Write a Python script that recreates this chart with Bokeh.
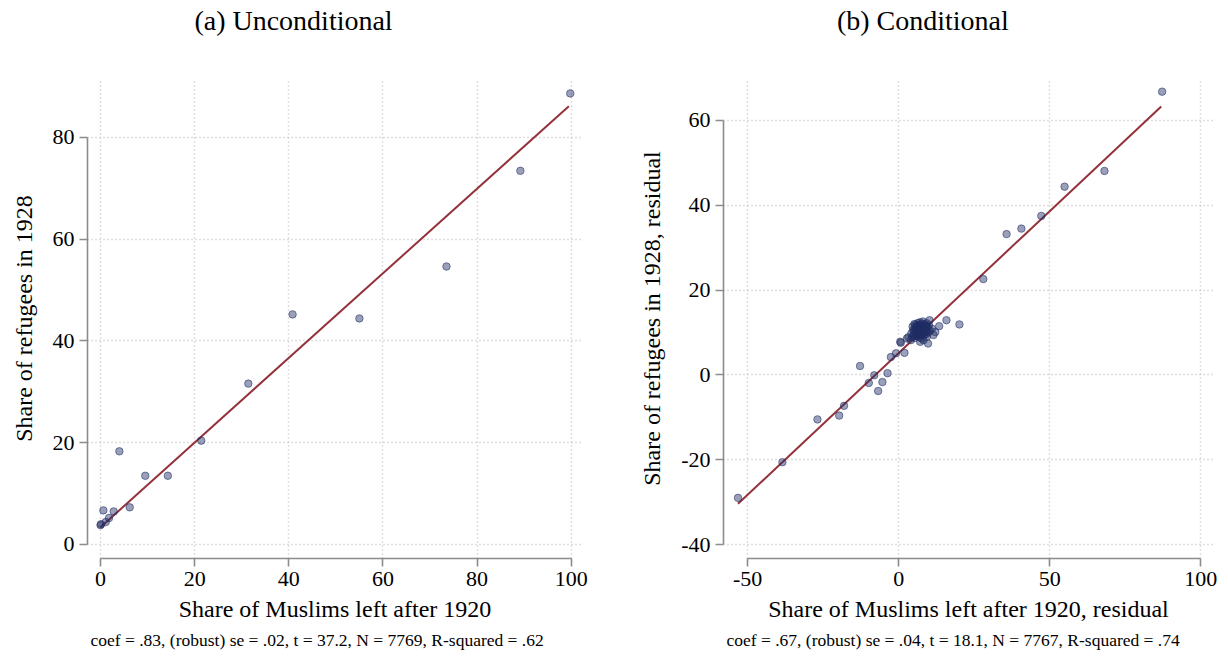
from bokeh.plotting import figure
from bokeh.layouts import row
from bokeh.models import Range1d, FixedTicker, Title, LinearAxis
from bokeh.embed import file_html
from bokeh.resources import INLINE

FONT = "Liberation Serif"

# ---------------- Panel (a): Unconditional ----------------
a_x = [0.0, 0.1, 1.1, 1.8, 2.8, 0.6, 6.2, 4.0, 9.5, 14.3, 21.4, 31.4, 40.8, 55.0, 73.5, 89.2, 99.8]
a_y = [3.8, 4.0, 4.4, 5.2, 6.5, 6.7, 7.3, 18.3, 13.5, 13.5, 20.4, 31.6, 45.2, 44.4, 54.6, 73.4, 88.6]
a_fit_x = [0.0, 99.5]
a_fit_y = [3.4, 86.1]
a_xticks = [0, 20, 40, 60, 80, 100]
a_yticks = [0, 20, 40, 60, 80]
a_title = "(a) Unconditional"
a_xlabel = "Share of Muslims left after 1920"
a_ylabel = "Share of refugees in 1928"
a_note = "coef = .83, (robust) se = .02, t = 37.2, N = 7769, R-squared = .62"

# ---------------- Panel (b): Conditional ----------------
b_x = [87.2, 68.1, 54.9, 47.2, 40.6, 35.7, 28.0, 20.1, 15.8, 13.4, 12.1, 10.2, 9.7,
       0.7, 2.7, 1.9, -0.9, -2.6, -3.7, -5.4, -6.8, -8.1, -9.9, -12.8,
       -18.1, -19.7, -26.9, -38.5, -53.2, 3.2, 4.0, 7.1, 8.2, 11.5, 11.0, 0.5,
       4.2, 4.5, 4.8, 5.0, 5.1, 5.3, 5.4, 5.6, 5.7, 5.8, 5.9, 6.0, 6.1, 6.2, 6.3,
       6.4, 6.5, 6.6, 6.7, 6.8, 6.9, 7.0, 7.1, 7.2, 7.3, 7.4, 7.5, 7.6, 7.7, 7.8,
       7.9, 8.0, 8.1, 8.2, 8.3, 8.4, 8.5, 8.6, 8.7, 8.8, 8.9, 9.0, 9.1, 9.2, 9.4,
       9.6, 9.8, 10.0, 6.3, 5.5, 7.0, 8.0, 4.6, 6.8, 7.6, 9.3, 5.2, 10.3]
b_y = [66.8, 48.1, 44.4, 37.5, 34.5, 33.2, 22.6, 11.9, 12.9, 11.5, 10.1, 12.9, 7.4,
       7.6, 8.6, 5.2, 5.1, 4.2, 0.4, -1.7, -3.8, -0.1, -1.9, 2.1,
       -7.3, -9.6, -10.5, -20.6, -29.0, 8.9, 8.2, 7.8, 8.2, 9.4, 10.9, 7.8,
       9.8, 8.9, 10.6, 9.4, 10.2, 8.7, 11.0, 9.9, 10.5, 9.2, 11.3, 10.0, 9.6, 10.8, 11.5,
       9.3, 10.3, 11.0, 9.8, 10.6, 11.8, 10.1, 9.5, 10.9, 11.4, 10.3, 9.7, 11.1, 10.6, 12.0,
       9.9, 10.8, 11.5, 10.2, 9.4, 11.2, 10.7, 11.9, 10.0, 11.4, 10.5, 9.6, 11.0, 12.2, 10.3,
       11.3, 10.0, 11.7, 12.2, 11.8, 12.4, 12.6, 11.4, 8.9, 8.6, 9.0, 12.0, 10.4]
b_fit_x = [-53.2, 86.9]
b_fit_y = [-30.4, 63.3]
b_xticks = [-50, 0, 50, 100]
b_yticks = [-40, -20, 0, 20, 40, 60]
b_title = "(b) Conditional"
b_xlabel = "Share of Muslims left after 1920, residual"
b_ylabel = "Share of refugees in 1928, residual"
b_note = "coef = .67, (robust) se = .04, t = 18.1, N = 7767, R-squared = .74"

MARKER = "#1f2d63"
FIT = "#94313a"
SPINE = "#8c8c8c"
GRID = "#bdbdbd"


def panel(xs, ys, fx, fy, xr, yr, xticks, yticks, title, xlabel, ylabel, note,
          border_left, border_right, title_at):
    p = figure(width=614, height=664, x_range=Range1d(*xr), y_range=Range1d(*yr),
               output_backend="svg", toolbar_location=None,
               min_border_left=border_left, min_border_right=border_right,
               min_border_top=78, min_border_bottom=106)
    p.outline_line_color = None
    p.background_fill_color = "white"
    p.border_fill_color = "white"

    for ax, ticks in ((p.xaxis[0], xticks), (p.yaxis[0], yticks)):
        ax.ticker = FixedTicker(ticks=ticks)
        ax.major_label_overrides = {t: str(t) for t in ticks}
        ax.bounds = (ticks[0], ticks[-1])
        ax.axis_line_color = SPINE
        ax.axis_line_width = 1.6
        ax.major_tick_line_color = SPINE
        ax.major_tick_line_width = 1.6
        ax.major_tick_out = 8
        ax.major_tick_in = 0
        ax.minor_tick_line_color = None
        ax.major_label_text_font = FONT
        ax.major_label_text_font_size = "22px"
        ax.major_label_text_color = "black"
        ax.major_label_standoff = 5
        ax.axis_label_text_font = FONT
        ax.axis_label_text_font_size = "24px"
        ax.axis_label_text_font_style = "normal"
        ax.axis_label_text_color = "black"
    p.xaxis[0].axis_label = xlabel
    p.yaxis[0].axis_label = ylabel
    p.xaxis[0].axis_label_standoff = 7
    p.yaxis[0].axis_label_standoff = 13
    p.yaxis[0].major_label_orientation = "horizontal"

    for g in (p.xgrid, p.ygrid):
        g.grid_line_color = GRID
        g.grid_line_dash = "1 3"
        g.grid_line_width = 1.4

    p.line(fx, fy, line_color=FIT, line_width=2)
    p.scatter(xs, ys, size=7.5, fill_color=MARKER, fill_alpha=0.45,
              line_color=MARKER, line_alpha=0.55, line_width=1)

    # panel caption above the plot, drawn as the single label of a bare top axis
    cap = LinearAxis(ticker=FixedTicker(ticks=[title_at]),
                     major_label_overrides={title_at: title},
                     axis_line_color=None, major_tick_line_color=None,
                     minor_tick_line_color=None, major_tick_out=0, major_tick_in=0,
                     major_label_standoff=43, major_label_text_font=FONT,
                     major_label_text_font_size="28px", major_label_text_color="black")
    p.add_layout(cap, "above")

    p.add_layout(Title(text=note, align="left", offset=3, standoff=6,
                       text_font=FONT, text_font_size="17.5px", text_font_style="normal",
                       text_color="black"), "below")
    return p


pa = panel(a_x, a_y, a_fit_x, a_fit_y, (-2.77, 102.4), (-2.75, 91.53),
           a_xticks, a_yticks, a_title, a_xlabel, a_ylabel, a_note, 87, 32, 41)
pb = panel(b_x, b_y, b_fit_x, b_fit_y, (-58.0, 104.2), (-43.3, 69.9),
           b_xticks, b_yticks, b_title, b_xlabel, b_ylabel, b_note, 109, 15, 8)

layout = row(pa, pb)
open("out.html", "w").write(file_html(layout, INLINE))
